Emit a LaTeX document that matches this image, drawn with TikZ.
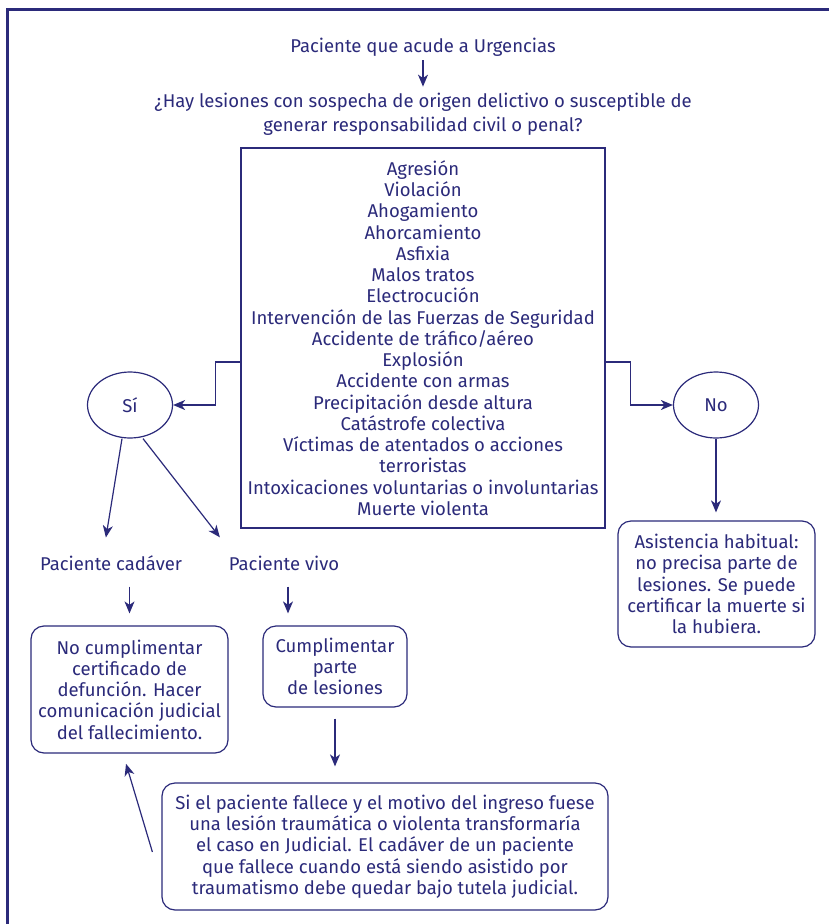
\documentclass[tikz,border=0pt]{standalone}
\usepackage{fontspec}
\setmainfont{Fira Sans}
\usetikzlibrary{arrows.meta,shapes.geometric}
\definecolor{ink}{RGB}{43,42,122}
\begin{document}
\begin{tikzpicture}[x=1pt,y=-1pt,
  every node/.style={text=ink,font=\fontsize{18.5}{21.25}\selectfont},
  lbl/.style={align=center,inner sep=0pt},
  listbox/.style={draw=ink,line width=1.2pt,minimum width=364pt,minimum height=380pt,align=center,inner sep=0pt},
  oval/.style={draw=ink,line width=1.2pt,ellipse,minimum width=85pt,minimum height=66pt,inner sep=0pt},
  roundbox/.style={draw=ink,line width=1.2pt,rounded corners=13pt,align=center,inner sep=0pt},
  arr/.style={draw=ink,line width=1.2pt,-{Stealth[length=12pt,width=10pt,inset=3.5pt]}},
  frame/.style={draw=ink,line width=3pt}]
\useasboundingbox (0,0) rectangle (829,924);
\fill[white] (-10,-10) rectangle (840,935);

% outer frame (top and left edges)
\draw[frame] (840,9) -- (7.5,9) -- (7.5,940);

% nodes
\node[lbl] (start) at (423,47) {Paciente que acude a Urgencias};
\node[lbl,font=\fontsize{18.5}{24}\selectfont] (q) at (423,114)
  {¿Hay lesiones con sospecha de origen delictivo o susceptible de\\generar responsabilidad civil o penal?};
\node[listbox] (causes) at (423,338) {Agresión\\Violación\\Ahogamiento\\Ahorcamiento\\Asfixia\\Malos tratos\\Electrocución\\Intervención de las Fuerzas de Seguridad\\Accidente de tráfico/aéreo\\Explosión\\Accidente con armas\\Precipitación desde altura\\Catástrofe colectiva\\Víctimas de atentados o acciones\\terroristas\\Intoxicaciones voluntarias o involuntarias\\Muerte violenta};
\node[oval] (si) at (130,405) {Sí};
\node[oval] (no) at (716,405) {No};
\node[roundbox,minimum width=197pt,minimum height=126pt] (habitual) at (716.5,584)
  {Asistencia habitual:\\no precisa parte de\\lesiones. Se puede\\certificar la muerte si\\la hubiera.};
\node[lbl] (cadaver) at (111,563) {Paciente cadáver};
\node[lbl] (vivo) at (284,563) {Paciente vivo};
\node[roundbox,minimum width=197pt,minimum height=127pt] (nocert) at (129.5,689.5)
  {No cumplimentar\\certificado de\\defunción. Hacer\\comunicación judicial\\del fallecimiento.};
\node[roundbox,minimum width=144pt,minimum height=81pt] (parte) at (335,666.5)
  {Cumplimentar\\parte\\de lesiones};
\node[roundbox,minimum width=446pt,minimum height=127pt] (judicial) at (385,846.5)
  {Si el paciente fallece y el motivo del ingreso fuese\\una lesión traumática o violenta transformaría\\el caso en Judicial. El cadáver de un paciente\\que fallece cuando está siendo asistido por\\traumatismo debe quedar bajo tutela judicial.};

% connectors
\draw[arr,shorten <=4pt,shorten >=6pt] (start.south) -- (q.north);
\draw[arr] ([yshift=-24pt]causes.west) -- ++(-25,0) |- (si);
\draw[arr] ([yshift=-24pt]causes.east) -- ++(25,0) |- (no);
\draw[arr,shorten >=8pt] (no) -- (no |- habitual.north);
\draw[arr,shorten >=18pt] ([xshift=-8pt]si.south) -- ([xshift=-8pt]cadaver.north);
\draw[arr,shorten >=23pt] ([xshift=13pt]si.south) -- ([xshift=-50pt]vivo.north);
\draw[arr,shorten <=16pt,shorten >=12pt] (cadaver.south -| nocert.north) -- (nocert.north);
\draw[arr,shorten <=16pt,shorten >=12pt] ([xshift=4pt]vivo.south) -- ([xshift=4pt]vivo.south |- parte.north);
\draw[arr,shorten <=11pt,shorten >=16pt] (parte.south) -- (parte.south |- judicial.north);
\draw[arr,shorten >=10.6pt] ([xshift=-9pt,yshift=-5.5pt]judicial.west) -- ([xshift=-6.5pt]nocert.south);
\end{tikzpicture}
\end{document}
